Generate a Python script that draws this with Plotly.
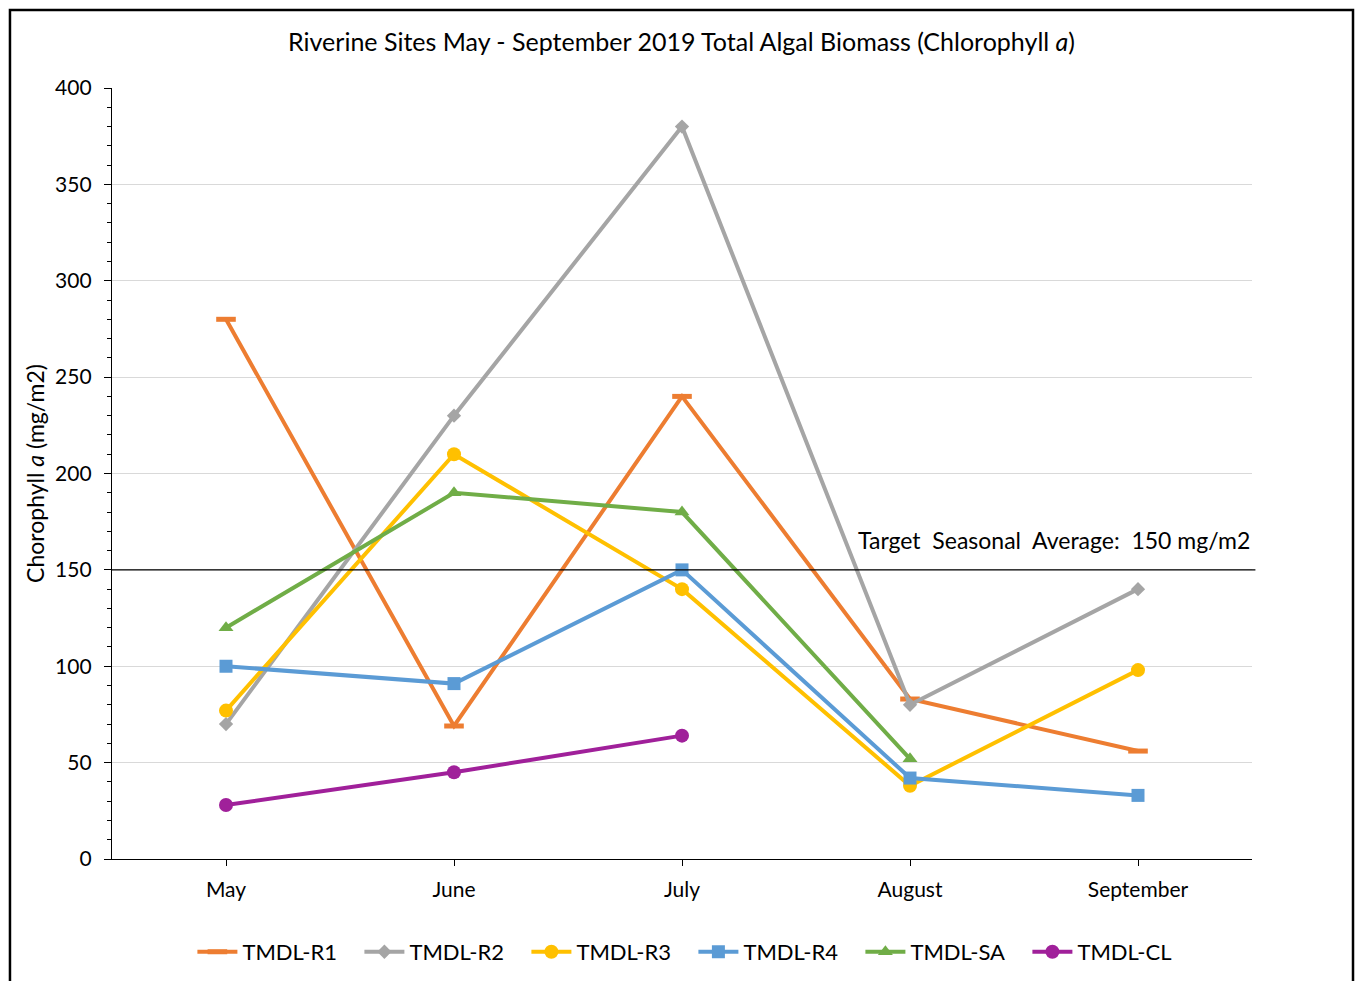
import plotly.graph_objects as go

months = ["May", "June", "July", "August", "September"]
r1 = [280, 69, 240, 83, 56]
r2 = [70, 230, 380, 80, 140]
r3 = [77, 210, 140, 38, 98]
r4 = [100, 91, 150, 42, 33]
sa = [120, 190, 180, 52, None]
cl = [28, 45, 64, None, None]
target = 150

series = [
    ("TMDL-R1", r1, "#ED7D31", "line-ew"),
    ("TMDL-R2", r2, "#A5A5A5", "diamond"),
    ("TMDL-R3", r3, "#FFC000", "circle"),
    ("TMDL-R4", r4, "#5B9BD5", "square"),
    ("TMDL-SA", sa, "#70AD47", "triangle-up"),
    ("TMDL-CL", cl, "#A0209A", "circle"),
]

FONT = "Lato, Open Sans, sans-serif"
fig = go.Figure()
xidx = list(range(len(months)))
for name, vals, color, sym in series:
    if sym == "line-ew":
        marker = dict(symbol=sym, size=14, color=color, line=dict(width=5, color=color))
    else:
        size = {"diamond": 11, "circle": 14, "square": 13, "triangle-up": 13}[sym]
        marker = dict(symbol=sym, size=size, color=color, line=dict(width=0))
    fig.add_trace(go.Scatter(
        x=xidx, y=vals, name=name, mode="lines+markers",
        line=dict(color=color, width=4), marker=marker,
        connectgaps=False,
    ))

fig.add_shape(type="line", xref="paper", yref="y", x0=0, x1=1.003, y0=target, y1=target,
              line=dict(color="black", width=1.3), layer="above")
fig.add_annotation(xref="paper", yref="y", x=1.0, y=target, xanchor="right", yanchor="bottom",
                   text="Target  Seasonal  Average:  150 mg/m2", showarrow=False,
                   font=dict(size=23, color="black", family=FONT), yshift=14)

# outer chart border
fig.add_shape(type="rect", xref="paper", yref="paper", x0=-0.0895, x1=1.0886, y0=-0.17, y1=1.1012,
              line=dict(color="black", width=2.5), fillcolor="rgba(0,0,0,0)", layer="below")

fig.update_layout(
    width=1355, height=981,
    margin=dict(l=112, r=103, t=88, b=122, autoexpand=False),
    paper_bgcolor="white", plot_bgcolor="white",
    font=dict(family=FONT, size=21, color="black"),
    title=dict(text="Riverine Sites May - September 2019 Total Algal Biomass (Chlorophyll <i>a</i>)",
               x=0.503, xanchor="center", y=0.9565, yanchor="middle",
               font=dict(size=25, family=FONT)),
    showlegend=True,
    legend=dict(orientation="h", x=0.51, xanchor="center", yref="container", y=0.0296,
                yanchor="middle",
                font=dict(size=22, family=FONT), itemwidth=40, tracegroupgap=0,
                entrywidth=112, entrywidthmode="pixels"),
    xaxis=dict(range=[-0.5, 4.5], tickvals=xidx, ticktext=months, showgrid=False,
               showline=True, linecolor="black", linewidth=1.3, ticks="outside",
               ticklen=6, tickcolor="black", zeroline=False, ticklabelstandoff=6),
    yaxis=dict(range=[0, 400], dtick=50, showgrid=True, gridcolor="#D9D9D9", gridwidth=1.2,
               showline=True, linecolor="black", linewidth=1.3, ticks="outside",
               ticklen=7, tickcolor="black", zeroline=False,
               minor=dict(dtick=10, ticks="outside", ticklen=4, tickcolor="black", showgrid=False),
               title=dict(text="Chorophyll <i>a</i> (mg/m2)", font=dict(size=23, family=FONT),
                          standoff=4),
               ticklabelstandoff=8),
)

fig.write_html("out.html", post_script="document.body.style.margin='0';",
               config={"displayModeBar": False})
